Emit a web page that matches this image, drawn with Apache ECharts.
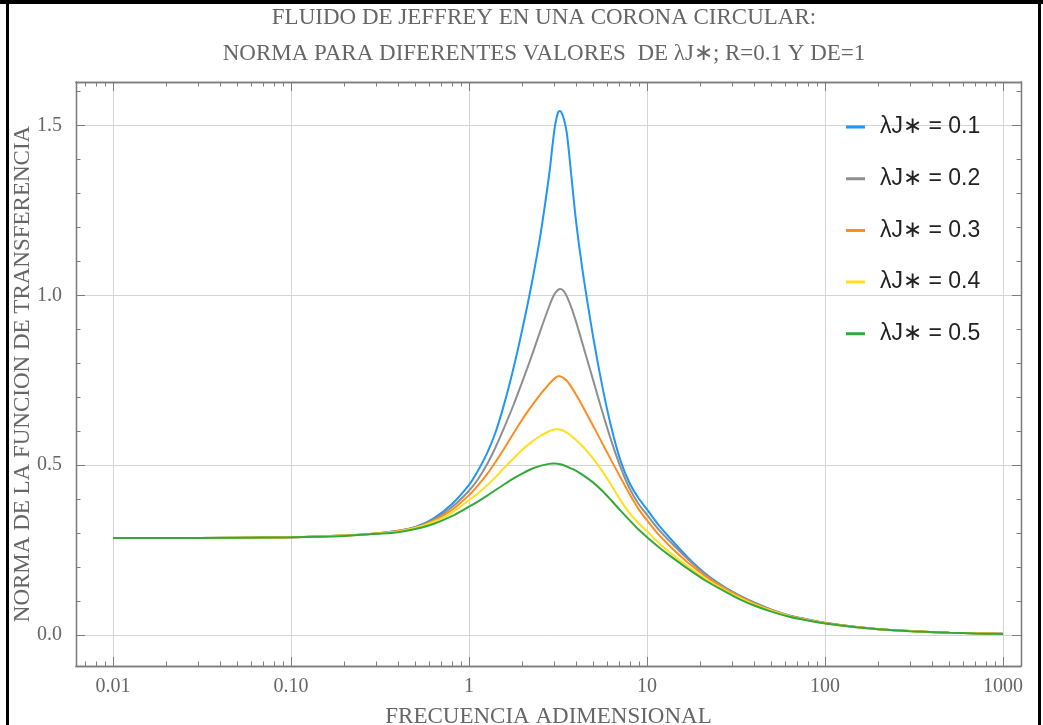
<!DOCTYPE html>
<html><head><meta charset="utf-8">
<script src="https://cdn.jsdelivr.net/npm/echarts@6/dist/echarts.min.js"></script>
<style>html,body{margin:0;padding:0;background:#fff}#c{width:1043px;height:725px}</style>
</head><body><div id="c"></div>
<script>
// ---- data ----
const FREQ = [0.01,0.03,0.1,0.2,0.3,0.4,0.5,0.63,0.8,1.0,1.12,1.26,1.41,1.58,1.78,2.0,2.24,2.51,2.82,2.95,3.05,3.16,3.24,3.31,3.43,3.55,3.76,3.98,4.22,4.47,5.01,5.62,6.31,7.08,7.94,8.91,10,11.7,13.9,17,21.4,27,33,40,50,63,80,100,150,200,300,500,700,1000];
const NORM_L01 = [0.2855,0.286,0.288,0.293,0.299,0.307,0.318,0.343,0.385,0.442,0.483,0.534,0.597,0.682,0.787,0.904,1.029,1.173,1.355,1.445,1.503,1.538,1.543,1.538,1.515,1.475,1.35,1.225,1.12,1.03,0.87,0.73,0.61,0.515,0.45,0.405,0.37,0.322,0.277,0.228,0.18,0.143,0.117,0.096,0.075,0.058,0.046,0.036,0.0235,0.0175,0.0118,0.0072,0.0052,0.0036];
const NORM_L02 = [0.2855,0.286,0.288,0.293,0.299,0.307,0.317,0.339,0.376,0.425,0.458,0.502,0.553,0.612,0.678,0.748,0.819,0.894,0.968,0.993,1.007,1.016,1.019,1.018,1.010,0.996,0.964,0.925,0.880,0.835,0.746,0.656,0.571,0.496,0.434,0.388,0.354,0.309,0.268,0.223,0.177,0.1405,0.1155,0.0948,0.0742,0.0573,0.0456,0.0358,0.0235,0.0175,0.0118,0.0072,0.0052,0.0036];
const NORM_L03 = [0.2855,0.286,0.288,0.293,0.299,0.306,0.316,0.336,0.368,0.412,0.44,0.473,0.51,0.55,0.594,0.636,0.673,0.708,0.739,0.750,0.757,0.762,0.762,0.760,0.755,0.748,0.730,0.709,0.686,0.662,0.6135,0.5635,0.5135,0.465,0.417,0.373,0.338,0.294,0.254,0.213,0.173,0.139,0.114,0.093,0.073,0.0565,0.045,0.0355,0.0235,0.0175,0.0118,0.0072,0.0052,0.0036];
const NORM_L04 = [0.2855,0.286,0.288,0.293,0.299,0.305,0.315,0.333,0.360,0.397,0.417,0.44,0.465,0.493,0.52,0.546,0.568,0.586,0.600,0.604,0.606,0.606,0.605,0.6035,0.600,0.5956,0.586,0.575,0.5625,0.549,0.518,0.482,0.441,0.398,0.3605,0.3305,0.3055,0.27,0.237,0.202,0.165,0.134,0.11,0.09,0.0715,0.0557,0.0443,0.0349,0.0233,0.0174,0.0117,0.0071,0.0051,0.0035];
const NORM_L05 = [0.2855,0.286,0.288,0.292,0.298,0.303,0.312,0.327,0.350,0.378,0.393,0.410,0.427,0.444,0.461,0.476,0.489,0.498,0.504,0.505,0.505,0.504,0.503,0.502,0.499,0.496,0.490,0.484,0.476,0.467,0.448,0.424,0.396,0.367,0.339,0.312,0.288,0.258,0.228,0.195,0.160,0.130,0.106,0.087,0.069,0.054,0.043,0.034,0.023,0.0172,0.0116,0.007,0.005,0.0034];
const SERIES_NAMES = ['λJ∗ = 0.1','λJ∗ = 0.2','λJ∗ = 0.3','λJ∗ = 0.4','λJ∗ = 0.5'];
const SERIES_VALUES = [NORM_L01, NORM_L02, NORM_L03, NORM_L04, NORM_L05];
const SERIES_COLORS = ['#2196f3','#8f8f8f','#ff8c1f','#ffdf1f','#35a83a'];

const X_TICKS = [0.01,0.1,1,10,100,1000];
const X_TICK_LABELS = ['0.01','0.10','1','10','100','1000'];
const X_MINOR = [0.007,0.008,0.009,0.02,0.03,0.04,0.05,0.06,0.07,0.08,0.09,0.2,0.3,0.4,0.5,0.6,0.7,0.8,0.9,2,3,4,5,6,7,8,9,20,30,40,50,60,70,80,90,200,300,400,500,600,700,800,900];
const Y_TICKS = [0,0.5,1,1.5];
const Y_TICK_LABELS = ['0.0','0.5','1.0','1.5'];
const Y_MINOR = [0.1,0.2,0.3,0.4,0.6,0.7,0.8,0.9,1.1,1.2,1.3,1.4,1.6];

const TITLE = 'FLUIDO DE JEFFREY EN UNA CORONA CIRCULAR:\nNORMA PARA DIFERENTES VALORES  DE λJ∗; R=0.1 Y DE=1';
const X_NAME = 'FRECUENCIA ADIMENSIONAL';
const Y_NAME = 'NORMA DE LA FUNCION DE TRANSFERENCIA';

// ---- chart ----
const X_MIN = 0.006195, X_MAX = 1262, Y_MIN = -0.091, Y_MAX = 1.628;
const SERIF = "'Liberation Serif','Times New Roman',serif";
const FRAME = '#7d7d7d';
const GRID = '#d4d4d4';
const TXT = '#666666';

function xLabel(v){
  const i = X_TICKS.findIndex(t => Math.abs(Math.log10(t) - Math.log10(v)) < 1e-6);
  return i >= 0 ? X_TICK_LABELS[i] : '';
}
function yLabel(v){
  const i = Y_TICKS.findIndex(t => Math.abs(t - v) < 1e-6);
  return i >= 0 ? Y_TICK_LABELS[i] : '';
}
function xAxis(pos, ticks, len, labels, split, extra){
  return Object.assign({
    type:'log', logBase:10, min:X_MIN, max:X_MAX, position:pos,
    axisLine:{show:true, onZero:false, lineStyle:{color:FRAME, width:1.3}},
    axisTick:{show:true, inside:true, length:len, customValues:ticks, lineStyle:{color:FRAME, width:1}},
    axisLabel:{show:labels, customValues:X_TICKS, formatter:xLabel, margin:11,
      fontFamily:SERIF, fontSize:20, color:TXT},
    splitLine:{show:split, lineStyle:{color:GRID, width:1}},
    minorTick:{show:false}, minorSplitLine:{show:false}
  }, extra||{});
}
function yAxis(pos, ticks, len, labels, split, extra){
  return Object.assign({
    type:'value', min:Y_MIN, max:Y_MAX, position:pos,
    axisLine:{show:true, onZero:false, lineStyle:{color:FRAME, width:1.3}},
    axisTick:{show:true, inside:true, length:len, customValues:ticks, lineStyle:{color:FRAME, width:1}},
    axisLabel:{show:labels, customValues:Y_TICKS, formatter:yLabel, margin:14,
      fontFamily:SERIF, fontSize:20, color:TXT},
    splitLine:{show:split, lineStyle:{color:GRID, width:1}},
    minorTick:{show:false}, minorSplitLine:{show:false}
  }, extra||{});
}

const chart = echarts.init(document.getElementById('c'), null, {renderer:'canvas'});
chart.setOption({
  backgroundColor:'#ffffff',
  animation:false,
  title:{
    text:TITLE, left:544, top:0, padding:0, textAlign:'center',
    textStyle:{fontFamily:SERIF, fontSize:23, fontWeight:'normal', color:TXT, lineHeight:36}
  },
  grid:{left:76, right:22, top:82, bottom:59, containLabel:false, outerBoundsMode:'none'},
  legend:{
    show:true, orient:'vertical', left:846, top:115, padding:0, itemGap:27.7,
    itemWidth:29, itemHeight:3,
    icon:'path://M0 0H19V3H0Z M28.95 0H29V3H28.95Z',
    textStyle:{fontFamily:"'Liberation Sans',Arial,sans-serif", fontSize:23, color:'#222', lineHeight:24},
    data:SERIES_NAMES
  },
  xAxis:[
    xAxis('bottom', X_TICKS, 9, true, true, {name:X_NAME, nameLocation:'middle', nameGap:39,
      nameTextStyle:{fontFamily:SERIF, fontSize:23, color:TXT}}),
    xAxis('bottom', X_MINOR, 4.5, false, false),
    xAxis('top', X_TICKS, 9, false, false),
    xAxis('top', X_MINOR, 4.5, false, false)
  ],
  yAxis:[
    yAxis('left', Y_TICKS, 9, true, true, {name:Y_NAME, nameLocation:'middle', nameGap:42, nameMoveOverlap:false,
      nameTextStyle:{fontFamily:SERIF, fontSize:23, color:TXT}}),
    yAxis('left', Y_MINOR, 4.5, false, false),
    yAxis('right', Y_TICKS, 9, false, false),
    yAxis('right', Y_MINOR, 4.5, false, false)
  ],
  graphic:[
    {type:'rect', shape:{x:0,y:0,width:1043,height:4}, style:{fill:'#000'}, z:100},
    {type:'rect', shape:{x:6,y:0,width:3,height:725}, style:{fill:'#000'}, z:100},
    {type:'rect', shape:{x:1038,y:0,width:3,height:725}, style:{fill:'#000'}, z:100}
  ],
  series: SERIES_NAMES.map((name, k) => ({
    name, type:'line', xAxisIndex:0, yAxisIndex:0,
    data: FREQ.map((f, i) => [f, SERIES_VALUES[k][i]]),
    smooth:0.3, showSymbol:false, symbol:'none',
    lineStyle:{color:SERIES_COLORS[k], width:2},
    itemStyle:{color:SERIES_COLORS[k]},
    emphasis:{disabled:true}, z:2+k
  }))
});
</script></body></html>
